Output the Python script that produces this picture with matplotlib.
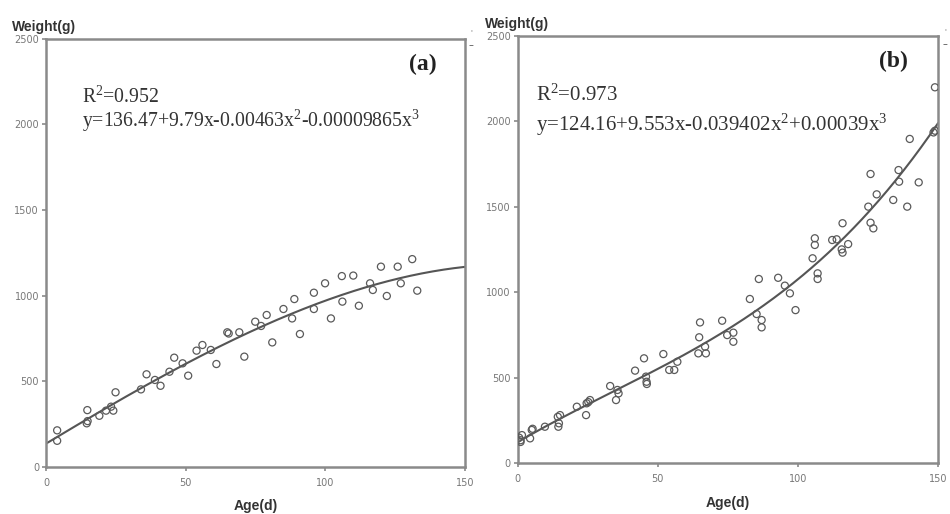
import numpy as np
import matplotlib
matplotlib.use("Agg")
import matplotlib.pyplot as plt

# ---- data: panel (a) ----
age_a = [4.0, 4.0, 14.8, 14.6, 14.9, 19.1, 21.5, 23.3, 24.1, 24.9, 34.0, 36.0, 39.0, 41.0,
         44.2, 45.9, 48.9, 50.9, 53.9, 56.0, 59.0, 61.0, 64.9, 65.4, 69.2, 71.0, 74.9, 77.0,
         79.0, 81.0, 85.0, 88.1, 88.9, 90.9, 95.9, 95.9, 99.9, 102.0, 105.9, 106.1, 110.0,
         112.0, 116.0, 117.0, 119.9, 122.0, 125.9, 127.0, 131.1, 132.9]
weight_a = [214, 153, 332, 255, 268, 299, 329, 352, 329, 436, 453, 541, 508, 474,
            556, 638, 605, 533, 679, 712, 683, 601, 786, 779, 786, 644, 848, 823,
            887, 727, 922, 867, 980, 776, 1017, 922, 1072, 867, 1114, 965, 1117,
            941, 1072, 1033, 1169, 998, 1169, 1072, 1213, 1029]
coef_a = [136.47, 9.79, -0.00463, -0.00009865]

# ---- data: panel (b) ----
age_b = [0.5, 1.0, 1.5, 1.0, 4.4, 5.0, 5.3, 9.7, 14.5, 14.7, 14.3, 15.1, 21.1, 24.4, 24.6,
         25.8, 25.2, 33.0, 35.1, 35.6, 36.0, 41.9, 45.1, 45.8, 46.0, 46.1, 52.0, 54.1, 55.9,
         57.0, 64.8, 64.5, 67.2, 66.9, 65.1, 73.0, 74.8, 77.0, 77.0, 82.9, 85.3, 86.1, 87.1,
         87.1, 93.0, 95.4, 97.2, 99.2, 105.3, 107.1, 107.1, 106.1, 106.1, 112.3, 113.9,
         115.7, 116.0, 118.0, 116.0, 125.2, 126.0, 127.0, 128.2, 126.0, 134.1, 136.0, 136.2,
         139.1, 140.0, 143.2, 148.5, 149.0, 149.0]
weight_b = [150, 135, 165, 125, 146, 195, 202, 214, 214, 234, 272, 282, 331, 282, 351,
            370, 358, 452, 370, 429, 409, 542, 614, 507, 477, 464, 639, 546, 546,
            594, 737, 643, 643, 682, 824, 834, 750, 764, 711, 961, 873, 1078, 838,
            795, 1085, 1039, 994, 896, 1199, 1111, 1078, 1316, 1277, 1306, 1310,
            1251, 1404, 1282, 1232, 1501, 1407, 1374, 1573, 1692, 1540, 1715, 1647,
            1501, 1897, 1643, 1935, 1945, 2199]
coef_b = [124.16, 9.553, -0.039402, 0.00039]

labels = ["(a)", "(b)"]
r2_texts = [r"R$^{2}$=0.952", r"R$^{2}$=0.973"]
eq_texts = [r"y=136.47+9.79x-0.00463x$^{2}$-0.00009865x$^{3}$",
            r"y=124.16+9.553x-0.039402x$^{2}$+0.00039x$^{3}$"]
x_ticks = [0, 50, 100, 150]
y_ticks = [0, 500, 1000, 1500, 2000, 2500]

plt.rcParams['mathtext.fontset'] = 'custom'
plt.rcParams['mathtext.rm'] = 'Liberation Serif'
plt.rcParams['mathtext.it'] = 'Liberation Serif:italic'

fig = plt.figure(figsize=(9.5, 5.14), dpi=100)
rects = [[0.0484, 0.0914, 0.4411, 0.8336], [0.5450, 0.0986, 0.4421, 0.8317]]
datasets = [(age_a, weight_a, coef_a), (age_b, weight_b, coef_b)]
text_x = [0.087, 0.044]
r2_y = [0.849, 0.847]
eq_y = [0.793, 0.779]
eq_size = [14.2, 15.0]
lab_pos = [(0.933, 0.940), (0.929, 0.941)]

frame_c = "#8a8a8a"
mark_c = "#5a5a5a"

for i, (rect, (ax_x, ax_y, coef)) in enumerate(zip(rects, datasets)):
    ax = fig.add_axes(rect)
    ax.scatter(ax_x, ax_y, s=26, facecolors="none", edgecolors=mark_c, linewidths=0.9, zorder=3)
    xs = np.linspace(0, 150, 300)
    ys = coef[0] + coef[1] * xs + coef[2] * xs ** 2 + coef[3] * xs ** 3
    ax.plot(xs, ys, color="#555555", lw=1.5, zorder=2)
    ax.set_xlim(0, 150)
    ax.set_ylim(0, 2500)
    ax.set_xticks(x_ticks)
    ax.set_yticks(y_ticks)
    for sp in ax.spines.values():
        sp.set_color(frame_c)
        sp.set_linewidth(1.8)
    ax.tick_params(direction="out", length=3, width=1.2, color=frame_c,
                   labelsize=7, labelcolor="#777777", pad=2)
    ax.tick_params(axis="x", pad=5)
    ax.text(text_x[i], r2_y[i], r2_texts[i],
            transform=ax.transAxes, fontsize=eq_size[i], family="Liberation Serif",
            color="#333333", va="baseline")
    ax.text(text_x[i], eq_y[i], eq_texts[i],
            transform=ax.transAxes, fontsize=eq_size[i], family="Liberation Serif",
            color="#333333", va="baseline")
    ax.text(lab_pos[i][0], lab_pos[i][1], labels[i], transform=ax.transAxes, fontsize=17,
            family="Liberation Serif", fontweight="bold", ha="right", va="center",
            color="#222222")
    ax.set_xlabel("Age(d)", fontsize=10, fontweight="bold", color="#333333",
                  family="Liberation Sans", labelpad=8)

fig.text(0.013, 0.947, "Weight(g)", fontsize=10, fontweight="bold", color="#333333",
         family="Liberation Sans", va="center")
fig.text(0.510, 0.953, "Weight(g)", fontsize=10, fontweight="bold", color="#333333",
         family="Liberation Sans", va="center")
for xf, yf in [(0.496, 0.912), (0.995, 0.915)]:
    fig.text(xf, yf, "–", fontsize=7, color="#555555", ha="center", va="center")
    fig.text(xf, yf + 0.025, "'", fontsize=5, color="#777777", ha="center", va="center")

fig.savefig("out.png", dpi=100, facecolor="white")
